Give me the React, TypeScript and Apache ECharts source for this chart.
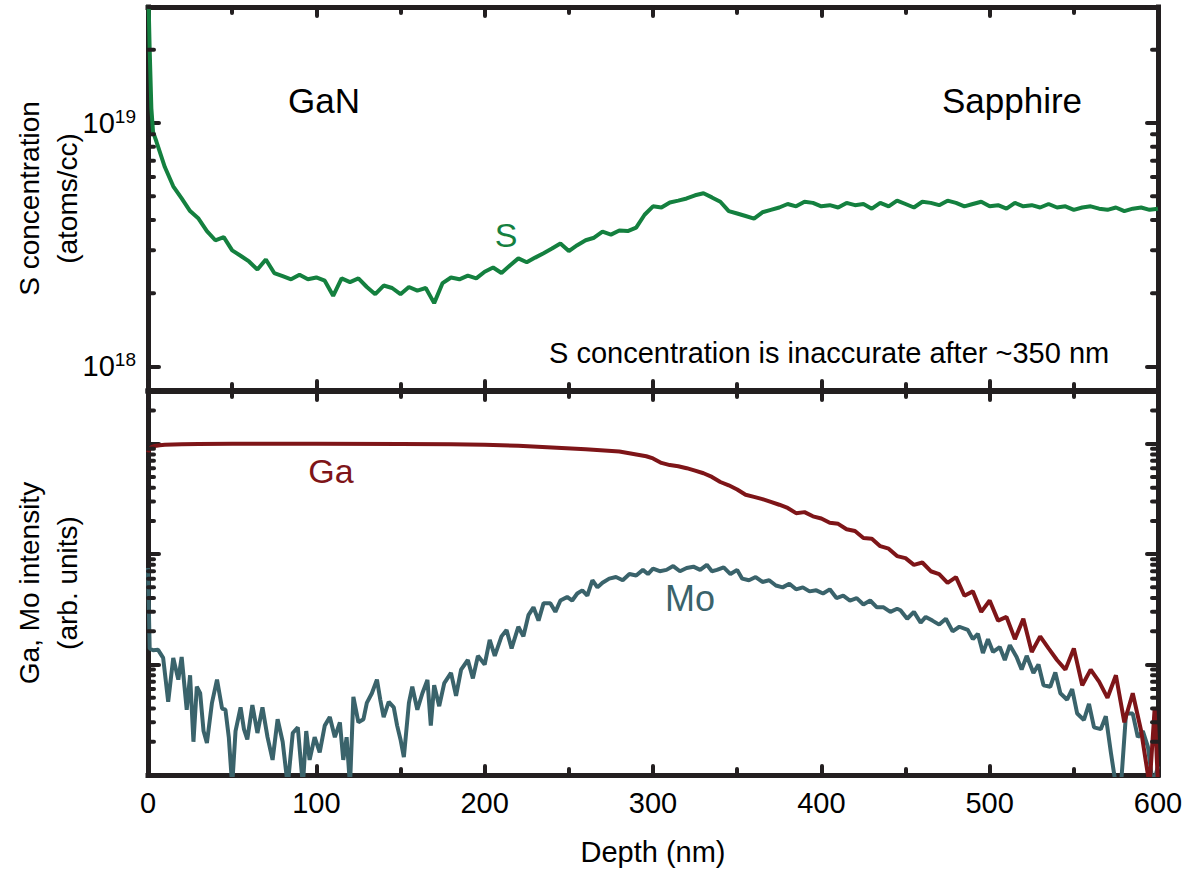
import React, { useEffect, useRef } from "react";
import * as echarts from "echarts";

// ---------- data ----------
// S concentration (atoms/cc) vs depth (nm)
const depthS = [0, 1, 2, 3, 5, 10, 15, 20, 25, 30, 35, 40, 45, 50, 55, 60, 65, 70, 75, 80, 85, 90, 95, 100, 105, 110, 115, 120, 125, 130, 135, 140, 145, 150, 155, 160, 165, 170, 175, 180, 185, 190, 195, 200, 205, 210, 215, 220, 225, 230, 235, 240, 245, 250, 255, 260, 265, 270, 275, 280, 285, 290, 295, 300, 305, 310, 315, 320, 325, 330, 335, 340, 345, 350, 355, 360, 365, 370, 375, 380, 385, 390, 395, 400, 405, 410, 415, 420, 425, 430, 435, 440, 445, 450, 455, 460, 465, 470, 475, 480, 485, 490, 495, 500, 505, 510, 515, 520, 525, 530, 535, 540, 545, 550, 555, 560, 565, 570, 575, 580, 585, 590, 595, 600];
const sulfur = [4.0e19, 2.0e19, 1.15e19, 9.2e18, 8.4e18, 6.6e18, 5.5e18, 4.9e18, 4.35e18, 4.05e18, 3.6e18, 3.3e18, 3.4e18, 3.0e18, 2.85e18, 2.7e18, 2.5e18, 2.75e18, 2.42e18, 2.35e18, 2.28e18, 2.38e18, 2.28e18, 2.32e18, 2.25e18, 1.95e18, 2.3e18, 2.22e18, 2.3e18, 2.12e18, 1.98e18, 2.15e18, 2.1e18, 1.98e18, 2.12e18, 2.05e18, 2.1e18, 1.82e18, 2.2e18, 2.32e18, 2.28e18, 2.36e18, 2.3e18, 2.45e18, 2.55e18, 2.42e18, 2.6e18, 2.78e18, 2.68e18, 2.8e18, 2.92e18, 3.05e18, 3.2e18, 2.98e18, 3.15e18, 3.3e18, 3.38e18, 3.58e18, 3.48e18, 3.62e18, 3.6e18, 3.72e18, 4.2e18, 4.55e18, 4.5e18, 4.72e18, 4.8e18, 4.9e18, 5.05e18, 5.15e18, 4.95e18, 4.75e18, 4.35e18, 4.25e18, 4.15e18, 4.05e18, 4.3e18, 4.4e18, 4.5e18, 4.65e18, 4.55e18, 4.75e18, 4.7e18, 4.55e18, 4.6e18, 4.5e18, 4.7e18, 4.6e18, 4.65e18, 4.45e18, 4.7e18, 4.55e18, 4.8e18, 4.65e18, 4.5e18, 4.75e18, 4.7e18, 4.6e18, 4.8e18, 4.7e18, 4.55e18, 4.65e18, 4.75e18, 4.55e18, 4.6e18, 4.45e18, 4.7e18, 4.55e18, 4.6e18, 4.5e18, 4.65e18, 4.5e18, 4.55e18, 4.4e18, 4.5e18, 4.55e18, 4.45e18, 4.4e18, 4.5e18, 4.35e18, 4.45e18, 4.5e18, 4.4e18, 4.45e18];

// Ga intensity (arb. units)
const depthGa = [0, 1, 2, 4, 7, 10, 20, 30, 50, 100, 150, 180, 200, 220, 240, 260, 280, 296, 300, 305, 310, 315, 320, 325, 330, 335, 340, 345, 350, 355, 360, 365, 370, 375, 380, 385, 390, 395, 400, 405, 410, 415, 420, 425, 430, 435, 440, 445, 450, 455, 460, 465, 470, 475, 480, 485, 490, 495, 500, 505, 510, 515, 520, 525, 530, 535, 540, 545, 550, 555, 560, 565, 570, 575, 580, 585, 590, 595, 598, 600];
const gallium = [830, 900, 930, 955, 970, 978, 988, 993, 998, 1000, 995, 990, 978, 960, 925, 890, 850, 770, 735, 670, 640, 625, 600, 570, 540, 500, 450, 420, 385, 345, 330, 315, 297, 280, 262, 235, 240, 220, 210, 192, 188, 168, 162, 140, 138, 118, 112, 96, 92, 80, 84, 70, 66, 55, 62, 42, 46, 30, 38, 25, 27, 17, 26, 13, 18, 14, 11, 9, 14, 6.5, 9, 7, 5, 8, 3, 5.5, 2.5, 0.8, 4, 0.8];

// Mo intensity (arb. units)
const depthMo = [0, 1, 3, 6, 9, 12, 15, 18, 20, 23, 25, 27, 29, 31, 33, 35, 38, 41, 44, 46, 48, 50, 52, 55, 57, 59, 62, 65, 68, 71, 74, 77, 80, 83, 86, 89, 92, 94, 96, 99, 102, 105, 108, 111, 114, 116, 118, 120, 122, 125, 128, 130, 133, 136, 138, 140, 143, 146, 148, 150, 152, 155, 157, 160, 163, 166, 168, 170, 173, 176, 180, 183, 186, 190, 193, 196, 200, 203, 206, 210, 213, 216, 220, 223, 226, 229, 232, 235, 239, 242, 245, 249, 252, 255, 258, 261, 264, 267, 270, 274, 278, 282, 286, 290, 294, 297, 300, 304, 308, 312, 316, 320, 324, 328, 332, 335, 338, 342, 346, 350, 353, 357, 361, 365, 369, 373, 377, 381, 385, 389, 393, 397, 401, 405, 409, 413, 417, 421, 425, 429, 433, 437, 441, 445, 447, 451, 455, 459, 462, 466, 470, 474, 478, 482, 487, 490, 493, 496, 499, 502, 506, 509, 512, 516, 519, 522, 526, 529, 532, 536, 539, 542, 546, 549, 552, 556, 559, 562, 566, 569, 572, 575, 578, 581, 585, 588, 591, 594, 597, 600];
const molybdenum = [75, 14, 13.5, 13.6, 11.5, 4.6, 11.5, 7.3, 11.7, 3.9, 8, 2.0, 6.3, 5.5, 2.5, 1.95, 4.5, 7.3, 4, 3.9, 2.2, 0.8, 2.5, 4.1, 2.6, 2.1, 4.3, 2.4, 4.1, 2.2, 1.37, 3.2, 2.0, 0.8, 2.4, 2.7, 0.8, 2.5, 1.37, 2.2, 1.6, 2.8, 3.35, 2.2, 3.0, 1.37, 2.2, 0.8, 5.1, 3.0, 3.2, 4.5, 5.5, 7.3, 4.8, 3.35, 4.6, 4.1, 2.8, 2.1, 1.45, 4.5, 6.3, 3.9, 5.5, 7.25, 2.8, 6.5, 4.2, 6.8, 8.4, 5.2, 9, 11, 7.5, 12, 10, 16.7, 12, 18, 20.6, 14, 22, 18, 28, 33, 25, 36, 36, 30, 38, 41, 38, 44, 47, 42, 58, 50, 55, 60, 62, 58, 66, 64, 72, 66, 74, 70, 72, 78, 70, 75, 77, 72, 80, 70, 72, 76, 66, 72, 60, 58, 62, 56, 58, 52, 50, 54, 48, 50, 46, 47, 44, 48, 40, 42, 38, 40, 35, 38, 33, 33, 30, 32, 31, 26, 30, 24, 27, 25, 23, 26, 20, 22, 20.6, 17, 19, 12.7, 17, 13, 14.4, 11, 15, 11.7, 9, 12, 8.4, 10, 6.5, 6.3, 8.5, 5.5, 4.8, 6, 3.6, 3.15, 4.4, 2.7, 2.6, 3.4, 1.6, 0.8, 0.8, 3.6, 3.6, 2.2, 2.5, 1.8, 0.8, 1.2];

// axis ranges and minor tick positions
const depthRange = [0, 600];
const sRange = [8e17, 3e19];
const intensityRange = [1, 3000];
const sMinorTicks = [2e18, 3e18, 4e18, 5e18, 6e18, 7e18, 8e18, 9e18, 2e19, 3e19];
const intensityMinorTicks = [2, 3, 4, 5, 6, 7, 8, 9, 20, 30, 40, 50, 60, 70, 80, 90, 200, 300, 400, 500, 600, 700, 800, 900, 2000, 3000];

// ---------- style ----------
const AX = "#231f20";
const FONT = "Liberation Sans, Arial, Helvetica, sans-serif";
const C_S = "#14803f";
const C_GA = "#7e1518";
const C_MO = "#3a636b";

function xAxisCfg(gridIndex: number, position: string, showLabel: boolean, name?: string) {
  return {
    type: "value",
    gridIndex,
    position,
    min: depthRange[0],
    max: depthRange[1],
    interval: 100,
    name: name || "",
    nameLocation: "middle",
    nameGap: 62,
    nameTextStyle: { fontFamily: FONT, fontSize: 29, color: "#000" },
    axisLine: { show: true, onZero: false, lineStyle: { color: AX, width: 5, cap: "square" } },
    axisTick: { show: true, inside: true, length: 9, lineStyle: { color: AX, width: 4, cap: "round" } },
    minorTick: { show: true, splitNumber: 2, length: 6, lineStyle: { color: AX, width: 4, cap: "round" } },
    splitLine: { show: false },
    minorSplitLine: { show: false },
    axisLabel: { show: showLabel, fontFamily: FONT, fontSize: 29, color: "#000", margin: 13 },
  };
}

function isPow10(v: number) {
  const e = Math.log10(v);
  return Math.abs(e - Math.round(e)) < 1e-6;
}

function yAxisCfg(gridIndex: number, position: string, range: number[], showLabel: boolean, name?: string) {
  return {
    type: "log",
    logBase: 10,
    gridIndex,
    position,
    min: range[0],
    max: range[1],
    name: name || "",
    nameLocation: "middle",
    nameRotate: 90,
    nameGap: 62,
    nameMoveOverlap: false,
    nameTextStyle: { fontFamily: FONT, fontSize: 28, color: "#000", lineHeight: 38, align: "center" },
    axisLine: { show: true, onZero: false, lineStyle: { color: AX, width: 5, cap: "square" } },
    axisTick: { show: true, inside: true, length: 11, lineStyle: { color: AX, width: 4, cap: "round" } },
    splitLine: { show: false },
    axisLabel: {
      show: showLabel,
      margin: 12,
      formatter: (v: number) => (isPow10(v) ? `{b|10}{s|${Math.round(Math.log10(v))}}` : ""),
      rich: {
        b: { fontFamily: FONT, fontSize: 29, color: "#000", lineHeight: 32 },
        s: { fontFamily: FONT, fontSize: 19, color: "#000", lineHeight: 19, verticalAlign: "top" },
      },
    },
  };
}

function minorTickSeries(xAxisIndex: number, yAxisIndex: number, values: number[]) {
  return {
    type: "custom",
    xAxisIndex,
    yAxisIndex,
    silent: true,
    clip: false,
    z: 10,
    data: values.map((v) => [0, v]),
    renderItem: (params: any, api: any) => {
      const y = api.coord([0, api.value(1)])[1];
      const cs = params.coordSys;
      const st = { stroke: AX, lineWidth: 4, lineCap: "round" };
      return {
        type: "group",
        children: [
          { type: "line", shape: { x1: cs.x, y1: y, x2: cs.x + 6, y2: y }, style: st },
          { type: "line", shape: { x1: cs.x + cs.width - 6, y1: y, x2: cs.x + cs.width, y2: y }, style: st },
        ],
      };
    },
  };
}

function txt(text: string, x: number, y: number, size: number, color: string, align = "center") {
  return {
    type: "text",
    x,
    y,
    z: 20,
    style: { text, fontFamily: FONT, fontSize: size, fill: color, align, verticalAlign: "middle" },
  };
}

export default function App() {
  const ref = useRef<HTMLDivElement>(null);
  useEffect(() => {
    if (!ref.current) return;
    const chart = echarts.init(ref.current, null, { renderer: "svg" });
    const option: any = {
      animation: false,
      backgroundColor: "#ffffff",
      grid: [
        { left: 148, right: 31, top: 7, height: 383, containLabel: false, outerBoundsMode: "none" },
        { left: 148, right: 31, top: 391, height: 384, containLabel: false, outerBoundsMode: "none" },
      ],
      xAxis: [
        xAxisCfg(0, "bottom", false),
        xAxisCfg(0, "top", false),
        xAxisCfg(1, "bottom", true, "Depth (nm)"),
        xAxisCfg(1, "top", false),
      ],
      yAxis: [
        yAxisCfg(0, "left", sRange, true, "S concentration\n(atoms/cc)"),
        yAxisCfg(0, "right", sRange, false),
        yAxisCfg(1, "left", intensityRange, false, "Ga, Mo intensity\n(arb. units)"),
        yAxisCfg(1, "right", intensityRange, false),
      ],
      series: [
        {
          name: "S",
          type: "line",
          xAxisIndex: 0,
          yAxisIndex: 0,
          data: depthS.map((d, i) => [d, sulfur[i]]),
          showSymbol: false,
          symbol: "none",
          clip: true,
          lineStyle: { color: C_S, width: 4 },
        },
        {
          name: "Ga",
          type: "line",
          xAxisIndex: 2,
          yAxisIndex: 2,
          data: depthGa.map((d, i) => [d, gallium[i]]),
          showSymbol: false,
          symbol: "none",
          clip: true,
          lineStyle: { color: C_GA, width: 4 },
        },
        {
          name: "Mo",
          type: "line",
          xAxisIndex: 2,
          yAxisIndex: 2,
          z: 1,
          data: depthMo.map((d, i) => [d, molybdenum[i]]),
          showSymbol: false,
          symbol: "none",
          clip: true,
          lineStyle: { color: C_MO, width: 4 },
        },
        minorTickSeries(0, 0, sMinorTicks),
        minorTickSeries(2, 2, intensityMinorTicks),
      ],
      graphic: [
        txt("GaN", 324, 100, 35, "#000"),
        txt("Sapphire", 1012, 100, 35, "#000"),
        txt("S", 506, 235, 34, C_S),
        txt("S concentration is inaccurate after ~350 nm", 549, 353, 29, "#000", "left"),
        txt("Ga", 331, 471, 34, C_GA),
        txt("Mo", 690, 598, 36, C_MO),
      ],
    };
    chart.setOption(option);
    return () => chart.dispose();
  }, []);
  return (
    <div
      ref={ref}
      style={{ position: "absolute", left: 0, top: 0, width: 1189, height: 870, background: "#fff" }}
    />
  );
}
